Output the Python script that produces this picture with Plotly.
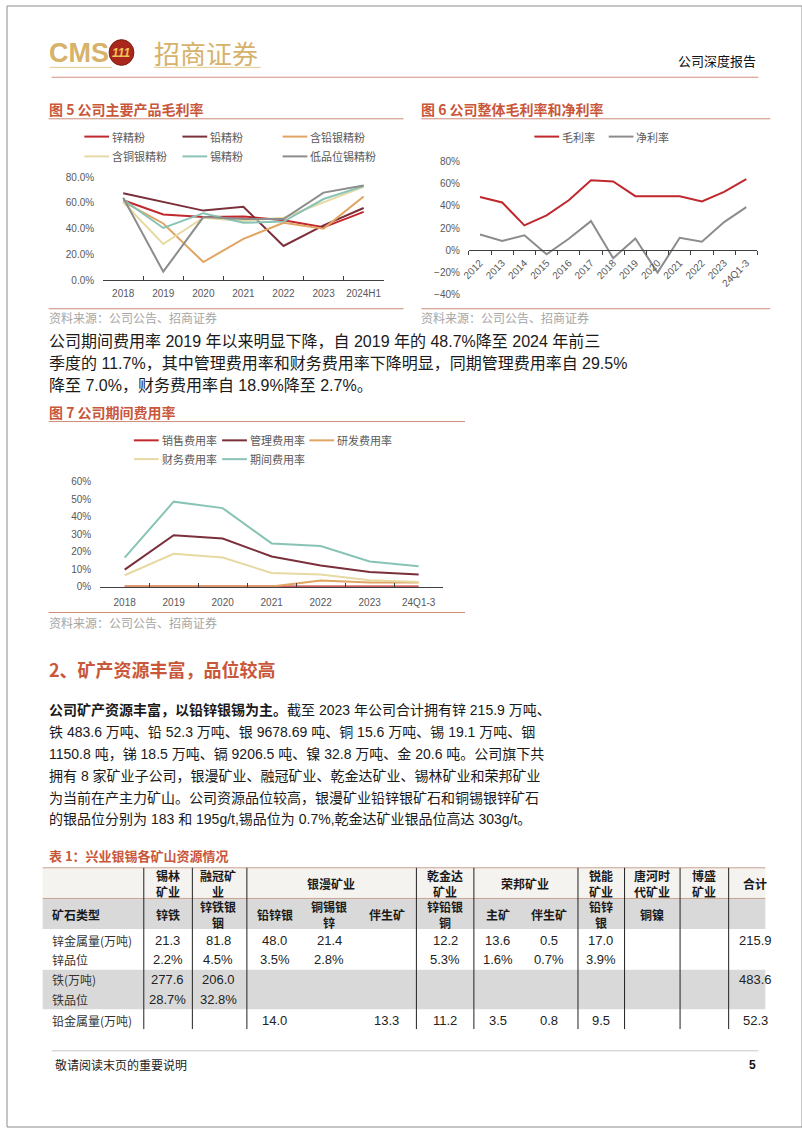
import plotly.graph_objects as go

W, H = 802, 1133


def fx(x):
    return x / W


def fy(y):
    return 1 - y / H


# 图5 公司主要产品毛利率 (%)
years5 = ['2018', '2019', '2020', '2021', '2022', '2023', '2024H1']
names5 = ['锌精粉', '铅精粉', '含铅银精粉', '含铜银精粉', '锡精粉', '低品位锡精粉']
zinc_conc = [62, 51, 49, 49.5, 46.5, 41, 53]
lead_conc = [67.5, 61, 54, 57, 26.5, 42.5, 56]
pb_ag_conc = [61, 44, 14, 32, 44.5, 40, 65]
cu_ag_conc = [60.5, 28, 48.5, 46, 48.5, 60.5, 72.5]
tin_conc = [62.5, 40.5, 52, 44.5, 45.5, 63, 73]
low_tin_conc = [64, 6.5, 49, 47.5, 47.5, 68, 73.5]
ticks5 = [0, 20, 40, 60, 80]

# 图6 公司整体毛利率和净利率 (%)
years6 = ['2012', '2013', '2014', '2015', '2016', '2017', '2018', '2019',
          '2020', '2021', '2022', '2023', '24Q1-3']
names6 = ['毛利率', '净利率']
gross_margin = [48, 43, 22.5, 31.5, 45, 63, 62, 48.7, 48.7, 48.7, 44, 52.5, 64]
net_margin = [14.3, 8.5, 13.5, -3.5, 10.5, 26.3, -7, 10.7, -20, 11.3, 7.8, 25.4, 38.8]

# 图7 公司期间费用率 (%)
years7 = ['2018', '2019', '2020', '2021', '2022', '2023', '24Q1-3']
names7 = ['销售费用率', '管理费用率', '研发费用率', '财务费用率', '期间费用率']
selling_rate = [0.2, 0.3, 0.1, 0.1, 0.1, 0.1, 0.1]
admin_rate = [9.8, 29.5, 27.6, 17.3, 12.2, 8.5, 7.0]
rnd_rate = [0.1, 0.3, 0.2, 0.1, 3.6, 2.5, 2.4]
finance_rate = [6.6, 18.9, 16.7, 7.9, 7.0, 3.8, 2.7]
period_rate = [16.7, 48.7, 45.0, 24.8, 23.3, 14.5, 11.7]

# 表1 兴业银锡各矿山资源情况
mine_head = ['<b>锡林<br>矿业</b>', '<b>融冠矿<br>业</b>', '<b>银漫矿业</b>', '<b>乾金达<br>矿业</b>',
             '<b>荣邦矿业</b>', '<b>锐能<br>矿业</b>', '<b>唐河时<br>代矿业</b>', '<b>博盛<br>矿业</b>', '<b>合计</b>']
ore_head = ['<b>锌铁</b>', '<b>锌铁银<br>铟</b>', '<b>铅锌银</b>', '<b>铜锡银<br>锌</b>', '<b>伴生矿</b>',
            '<b>锌铅银<br>铜</b>', '<b>主矿</b>', '<b>伴生矿</b>', '<b>铅锌<br>银</b>', '<b>铜镍</b>', '', '']
row_labels = ['锌金属量(万吨)', '锌品位', '铁(万吨)', '铁品位', '铅金属量(万吨)']
zn_metal = ['21.3', '81.8', '48.0', '21.4', '', '12.2', '13.6', '0.5', '17.0', '', '', '215.9']
zn_grade = ['2.2%', '4.5%', '3.5%', '2.8%', '', '5.3%', '1.6%', '0.7%', '3.9%', '', '', '']
fe_metal = ['277.6', '206.0', '', '', '', '', '', '', '', '', '', '483.6']
fe_grade = ['28.7%', '32.8%', '', '', '', '', '', '', '', '', '', '']
pb_metal = ['', '', '14.0', '', '13.3', '11.2', '3.5', '0.8', '9.5', '', '', '52.3']

para1 = [
    '公司期间费用率 2019 年以来明显下降，自 2019 年的 48.7%降至 2024 年前三',
    '季度的 11.7%，其中管理费用率和财务费用率下降明显，同期管理费用率自 29.5%',
    '降至 7.0%，财务费用率自 18.9%降至 2.7%。',
]
para2 = [
    '<b>公司矿产资源丰富，以铅锌银锡为主。</b>截至 2023 年公司合计拥有锌 215.9 万吨、',
    '铁 483.6 万吨、铅 52.3 万吨、银 9678.69 吨、铜 15.6 万吨、锡 19.1 万吨、铟',
    '1150.8 吨，锑 18.5 万吨、镉 9206.5 吨、镍 32.8 万吨、金 20.6 吨。公司旗下共',
    '拥有 8 家矿业子公司，银漫矿业、融冠矿业、乾金达矿业、锡林矿业和荣邦矿业',
    '为当前在产主力矿山。公司资源品位较高，银漫矿业铅锌银矿石和铜锡银锌矿石',
    '的银品位分别为 183 和 195g/t,锡品位为 0.7%,乾金达矿业银品位高达 303g/t。',
]

RED = '#C0282D'
MAROON = '#7A2F3A'
ORANGE = '#E2A463'
BEIGE = '#E6D9A2'
TEAL = '#88C4B6'
GRAY = '#8C8C8C'
TITLE = '#C9573A'
RULE = '#CD8B78'
GOLD = '#D6B26A'
FONT = 'Liberation Sans, Noto Sans CJK SC'
CJK = 'Noto Sans CJK SC, Liberation Sans'

fig = go.Figure()

series5 = [zinc_conc, lead_conc, pb_ag_conc, cu_ag_conc, tin_conc, low_tin_conc]
colors5 = [RED, MAROON, ORANGE, BEIGE, TEAL, GRAY]
for name, vals, c in zip(names5, series5, colors5):
    fig.add_trace(go.Scatter(x=years5, y=vals, name=name, mode='lines',
                             line=dict(color=c, width=2), xaxis='x', yaxis='y'))

for name, vals, c in zip(names6, [gross_margin, net_margin], [RED, GRAY]):
    fig.add_trace(go.Scatter(x=years6, y=vals, name=name, mode='lines',
                             line=dict(color=c, width=2), xaxis='x2', yaxis='y2'))

series7 = [selling_rate, admin_rate, rnd_rate, finance_rate, period_rate]
colors7 = [RED, MAROON, ORANGE, BEIGE, TEAL]
for name, vals, c in zip(names7, series7, colors7):
    fig.add_trace(go.Scatter(x=years7, y=vals, name=name, mode='lines',
                             line=dict(color=c, width=2), xaxis='x3', yaxis='y3'))

tickfont = dict(family=FONT, size=10, color='#595959')
xcommon = dict(type='category', showgrid=False, zeroline=False, showline=True,
               linecolor='#404040', linewidth=1, tickson='boundaries', ticklen=4,
               tickcolor='#404040', tickfont=tickfont)
ycommon = dict(showgrid=False, zeroline=False, showline=False, ticks='',
               tickfont=tickfont, ticklabelstandoff=8)

y6_dom = [fy(292), fy(157)]
y6_rng = [-40, 80]
zero6 = y6_dom[0] + (0 - y6_rng[0]) / (y6_rng[1] - y6_rng[0]) * (y6_dom[1] - y6_dom[0])

shapes = []
ann = []


def line(x0, y0, x1, y1, color, width=1):
    shapes.append(dict(type='line', xref='paper', yref='paper', x0=fx(x0), y0=fy(y0),
                       x1=fx(x1), y1=fy(y1), line=dict(color=color, width=width)))


def rect(x0, y0, x1, y1, fill):
    shapes.append(dict(type='rect', xref='paper', yref='paper', x0=fx(x0), y0=fy(y0),
                       x1=fx(x1), y1=fy(y1), fillcolor=fill, line=dict(width=0), layer='below'))


def text(s, x, y, size, color='#1a1a1a', anchor='left', family=FONT):
    ann.append(dict(text=s, x=fx(x), y=fy(y), xref='paper', yref='paper', xanchor=anchor,
                    yanchor='middle', showarrow=False, align='center',
                    font=dict(family=family, size=size, color=color)))


def legend_item(name, color, x, y):
    line(x, y, x + 25, y, color, 2)
    text(name, x + 26, y, 11, '#595959', family=CJK)


# page border and header
shapes.append(dict(type='rect', xref='paper', yref='paper', x0=0, y0=0, x1=1, y1=1,
                   line=dict(color='#8C8C8C', width=1)))
text('<b>CMS</b>', 40, 47, 27, GOLD, family='Liberation Sans')
shapes.append(dict(type='circle', xref='paper', yref='paper', x0=fx(103), x1=fx(128),
                   y0=fy(60), y1=fy(34), fillcolor='#A9281B', line=dict(color='#7A1A10', width=1)))
text('<b><i>111</i></b>', 115.5, 47, 12, '#F0C65A', anchor='center')
text('招商证券', 146, 47, 26, GOLD, family=CJK)
line(43, 62, 106, 62, '#E0C890', 1)
line(148, 62, 256, 62, '#E0C890', 1)
line(45, 72, 758, 72, '#D38E7E', 1)
text('公司深度报告', 758, 55, 13, '#111111', anchor='right', family=CJK)

# chart titles and rules
text('<b>图 5 公司主要产品毛利率</b>', 40, 104, 14, TITLE, family=CJK)
line(42, 114, 400, 114, RULE)
text('<b>图 6 公司整体毛利率和净利率</b>', 416, 104, 14, TITLE, family=CJK)
line(418, 114, 770, 114, RULE)
line(42, 306, 400, 306, RULE)
line(418, 306, 770, 306, RULE)
text('资料来源：公司公告、招商证券', 40, 315, 12, '#A6A6A6', family=CJK)
text('资料来源：公司公告、招商证券', 416, 315, 12, '#A6A6A6', family=CJK)

legend_x5 = [78, 177, 278]
for i, (name, c) in enumerate(zip(names5, colors5)):
    legend_item(name, c, legend_x5[i % 3], 132 if i < 3 else 152)
for name, c, x in zip(names6, [RED, GRAY], [532, 607]):
    legend_item(name, c, x, 132)

for i, s in enumerate(para1):
    text(s, 40, 339 + i * 22.5, 16, family=FONT)

text('<b>图 7 公司期间费用率</b>', 40, 410, 14, TITLE, family=CJK)
line(42, 420, 462, 420, RULE)
legend_x7 = [128, 217, 305]
for i, (name, c) in enumerate(zip(names7, colors7)):
    legend_item(name, c, legend_x7[i % 3], 439 if i < 3 else 458)
line(42, 613, 462, 613, RULE)
text('资料来源：公司公告、招商证券', 40, 623, 12, '#A6A6A6', family=CJK)

text('<b>2、矿产资源丰富，品位较高</b>', 40, 670, 18, TITLE, family=CJK)
for i, s in enumerate(para2):
    text(s, 40, 712 + i * 22, 14, family=FONT)

# table
text('<b>表 1：兴业银锡各矿山资源情况</b>', 40, 859, 13, TITLE, family=CJK)
rect(36, 871, 765, 902, '#F5F3F0')
rect(36, 902, 765, 933, '#D9D9D9')
rect(36, 974, 765, 1014, '#D9D9D9')
line(36, 871, 765, 871, '#C9A393')
line(36, 902, 765, 902, '#C9A393')
for vx in [138, 187, 242, 413, 471, 576, 623, 679, 728]:
    line(vx, 871, vx, 1034, '#222222')

head_x = [162, 213, 327, 442, 523, 599, 651, 703, 755]
for s, x in zip(mine_head, head_x):
    text(s, x, 887, 12, '#1a1a1a', anchor='center', family=CJK)
col_x = [162, 213, 270, 325, 383, 442, 495, 547, 599, 651, 703, 755]
text('<b>矿石类型</b>', 43, 918, 12, '#1a1a1a', family=CJK)
for s, x in zip(ore_head, col_x):
    if s:
        text(s, x, 918, 12, '#1a1a1a', anchor='center', family=CJK)

rows = [zn_metal, zn_grade, fe_metal, fe_grade, pb_metal]
row_y = [944, 964, 984, 1004, 1025]
for lab, vals, y in zip(row_labels, rows, row_y):
    text(lab, 43, y, 12, '#333333', family=CJK)
    for s, x in zip(vals, col_x):
        if s:
            text(s, x, y, 13, '#222222', anchor='center')

# footer
line(45, 1056, 758, 1056, '#C8C8C8')
text('敬请阅读末页的重要说明', 46, 1070, 12, '#222222', family=CJK)
text('<b>5</b>', 758, 1070, 12, '#111111', anchor='right')

# no layout width/height: the div itself is 802x1133, pinned to the page corner
fig.update_layout(
    autosize=True, margin=dict(l=0, r=0, t=0, b=0),
    paper_bgcolor='white', plot_bgcolor='white', showlegend=False,
    xaxis=dict(domain=[fx(97), fx(380)], anchor='y', range=[-0.5, 6.5], ticks='inside',
               tickangle=0, ticklabelstandoff=4, **xcommon),
    yaxis=dict(domain=[fy(277), fy(173)], anchor='x', range=[0, 80], tickvals=ticks5,
               ticktext=[f'{v:.1f}%' for v in ticks5], **ycommon),
    xaxis2=dict(domain=[fx(466), fx(757)], anchor='free', position=zero6, range=[-0.5, 12.5],
                ticks='outside', tickangle=-45, ticklabelstandoff=2, **xcommon),
    yaxis2=dict(domain=y6_dom, anchor='x2', range=y6_rng, dtick=20, ticksuffix='%', **ycommon),
    xaxis3=dict(domain=[fx(94), fx(440)], anchor='y3', range=[-0.5, 6.5], ticks='inside',
                tickangle=0, ticklabelstandoff=6, **xcommon),
    yaxis3=dict(domain=[fy(587), fy(481)], anchor='x3', range=[0, 60], dtick=10, ticksuffix='%', **ycommon),
    shapes=shapes, annotations=ann,
)

fig.write_html('out.html', config={'displayModeBar': False},
               default_width=f'{W}px',
               default_height=f'{H}px; position:absolute; left:0; top:0')
